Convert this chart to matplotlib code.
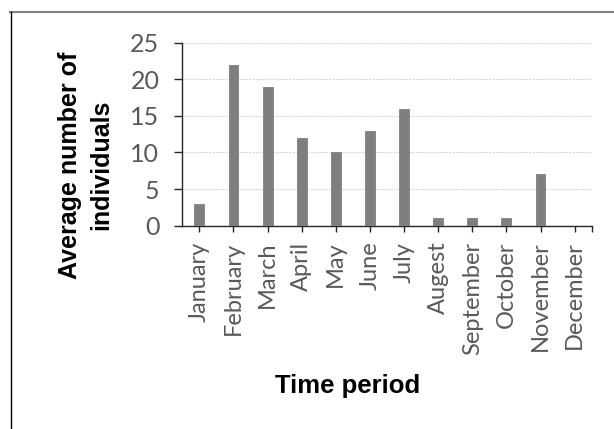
import matplotlib
matplotlib.use("Agg")
import matplotlib.pyplot as plt
from matplotlib.lines import Line2D

months = ["January", "February", "March", "April", "May", "June", "July",
          "Augest", "September", "October", "November", "December"]
values = [3, 22, 19, 12, 10, 13, 16, 1, 1, 1, 7, 0]
yticks = [0, 5, 10, 15, 20, 25]
ylabel = "Average number of\nindividuals"
xlabel = "Time period"

W, H = 614, 429
fig = plt.figure(figsize=(W / 100, H / 100), dpi=100)

def fx(px):
    return px / W

def fy(py):
    return 1 - py / H

left, right, top, bottom = 182.3, 591.7, 42.7, 225.7
ax = fig.add_axes([fx(left), fy(bottom), fx(right - left), (bottom - top) / H])

x = list(range(len(months)))
ax.bar(x, values, width=0.29, color="#7f7f7f", edgecolor="#737373", linewidth=0.5, zorder=3)

ax.set_xlim(-0.5, len(months) - 0.5)
ax.set_ylim(0, 25)
ax.set_yticks(yticks)
ax.set_xticks(x)
ax.set_xticklabels(months, rotation=90, fontfamily="Lato", fontsize=17, color="#595959")
ax.set_xticks([len(months) - 0.5], minor=True)
ax.set_yticklabels([str(v) for v in yticks], fontfamily="Lato", fontsize=18, color="#595959")

ax.yaxis.grid(True, color="#d9d9d9", linewidth=0.8, linestyle=(0, (2, 1)), zorder=0)
ax.set_axisbelow(True)

for s in ["top", "right"]:
    ax.spines[s].set_visible(False)
for s in ["left", "bottom"]:
    ax.spines[s].set_color("#262626")
    ax.spines[s].set_linewidth(1.0)

ax.tick_params(axis="x", which="both", direction="out", length=4.5, width=1.0, color="#262626", pad=7)
ax.tick_params(axis="y", direction="out", length=6, width=1.0, color="#262626", pad=10.5)

fig.text(fx(86), fy(165), ylabel, rotation=90, ha="center", va="center",
         multialignment="center", fontsize=18, fontweight="bold",
         fontfamily="Liberation Sans", linespacing=1.38, color="black")
fig.text(fx(348), fy(393.3), xlabel, ha="center", va="baseline",
         fontsize=18.5, fontweight="bold", fontfamily="Liberation Sans", color="black")

# frame lines
fig.add_artist(Line2D([fx(10), fx(614)], [fy(12), fy(12)], color="#808080", linewidth=1.5,
                      transform=fig.transFigure))
fig.add_artist(Line2D([fx(10.5), fx(10.5)], [fy(12), fy(429)], color="black", linewidth=1.0,
                      transform=fig.transFigure))

fig.savefig("out.png", dpi=100)
